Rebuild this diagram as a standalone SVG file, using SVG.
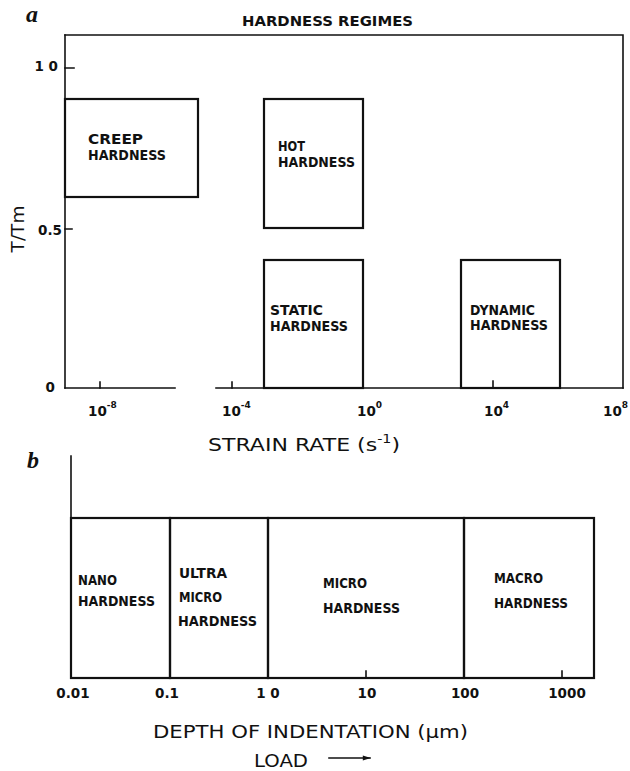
<svg xmlns="http://www.w3.org/2000/svg" width="630" height="771" viewBox="0 0 630 771">
<style>
.ln{stroke:#111;stroke-width:1.6;fill:none;stroke-linecap:square}
.bx{stroke:#111;stroke-width:2.2;fill:none}
.lb{font-family:"DejaVu Sans","Liberation Sans",sans-serif;font-weight:bold;font-size:14.5px;fill:#111}
.tk{font-family:"DejaVu Sans","Liberation Sans",sans-serif;font-weight:bold;font-size:13.5px;fill:#111}
.ax{font-family:"DejaVu Sans","Liberation Sans",sans-serif;font-size:18.5px;fill:#111}
.pl{font-family:"Liberation Serif",serif;font-weight:bold;font-style:italic;font-size:24px;fill:#111}
.sp{font-size:9px}
</style>
<defs>
<marker id="ah" viewBox="0 0 10 10" refX="9" refY="5" markerWidth="16" markerHeight="8" markerUnits="userSpaceOnUse" orient="auto">
<path d="M0,2 L10,5 L0,8 Z" fill="#111"/>
</marker>
</defs>

<!-- Panel a -->
<g id="panel-a-labels">
<text class="pl" x="26" y="22">a</text>
<text class="lb" x="242" y="26" textLength="171" lengthAdjust="spacingAndGlyphs">HARDNESS REGIMES</text>
<text class="ax" transform="translate(24,229) rotate(-90)" text-anchor="middle">T/Tm</text>
<text class="tk" x="58" y="71" text-anchor="end">1 0</text>
<text class="tk" x="62" y="235" text-anchor="end">0.5</text>
<text class="tk" x="55" y="392" text-anchor="end">0</text>
<text class="tk" x="88" y="416">10<tspan class="sp" dy="-8">-8</tspan></text>
<text class="tk" x="222" y="416">10<tspan class="sp" dy="-8">-4</tspan></text>
<text class="tk" x="357" y="416">10<tspan class="sp" dy="-8">0</tspan></text>
<text class="tk" x="484" y="416">10<tspan class="sp" dy="-8">4</tspan></text>
<text class="tk" x="603" y="416">10<tspan class="sp" dy="-8">8</tspan></text>
<text class="ax" x="208" y="451" textLength="192" lengthAdjust="spacingAndGlyphs">STRAIN RATE (s<tspan font-size="12" dy="-8">-1</tspan><tspan dy="8">)</tspan></text>
</g>

<g id="connectors">
<path class="ln" d="M65,35 H623 V388"/>
<path class="ln" d="M65,35 V388"/>
<path class="ln" d="M65,388 H175 M216,388 H623"/>
<path class="ln" d="M65,68 H74 M65,229 H72 M100,388 V382 M232,388 V382 M493,388 V381"/>
<path class="ln" d="M71,456 V678 H594"/>
<path class="ln" d="M366,678 V671 M562,678 V671"/>
<path class="ln" d="M329,758 H370" stroke-width="2.4" marker-end="url(#ah)"/>
</g>

<g id="creep">
<rect class="bx" x="65" y="99" width="133" height="98"/>
<text class="lb" x="88" y="144" textLength="55" lengthAdjust="spacingAndGlyphs">CREEP</text>
<text class="lb" x="88" y="160" textLength="78" lengthAdjust="spacingAndGlyphs">HARDNESS</text>
</g>
<g id="hot">
<rect class="bx" x="264" y="99" width="99" height="129"/>
<text class="lb" x="278" y="151" textLength="27" lengthAdjust="spacingAndGlyphs">HOT</text>
<text class="lb" x="278" y="167" textLength="77" lengthAdjust="spacingAndGlyphs">HARDNESS</text>
</g>
<g id="static">
<rect class="bx" x="264" y="260" width="99" height="128"/>
<text class="lb" x="270" y="315" textLength="53" lengthAdjust="spacingAndGlyphs">STATIC</text>
<text class="lb" x="270" y="331" textLength="78" lengthAdjust="spacingAndGlyphs">HARDNESS</text>
</g>
<g id="dynamic">
<rect class="bx" x="461" y="260" width="99" height="128"/>
<text class="lb" x="470" y="315" textLength="65" lengthAdjust="spacingAndGlyphs">DYNAMIC</text>
<text class="lb" x="470" y="330" textLength="78" lengthAdjust="spacingAndGlyphs">HARDNESS</text>
</g>

<!-- Panel b -->
<g id="panel-b-labels">
<text class="pl" x="27" y="468">b</text>
<text class="tk" x="73" y="698" text-anchor="middle">0.01</text>
<text class="tk" x="167" y="698" text-anchor="middle">0.1</text>
<text class="tk" x="268" y="698" text-anchor="middle">1 0</text>
<text class="tk" x="367" y="698" text-anchor="middle">10</text>
<text class="tk" x="465" y="698" text-anchor="middle">100</text>
<text class="tk" x="567" y="698" text-anchor="middle">1000</text>
<text class="ax" x="153" y="738" textLength="315" lengthAdjust="spacingAndGlyphs">DEPTH OF INDENTATION (µm)</text>
<text class="ax" x="254" y="767" textLength="54" lengthAdjust="spacingAndGlyphs">LOAD</text>
</g>
<g id="nano">
<rect class="bx" x="71" y="518" width="99" height="160"/>
<text class="lb" x="78" y="585" textLength="39" lengthAdjust="spacingAndGlyphs">NANO</text>
<text class="lb" x="78" y="606" textLength="77" lengthAdjust="spacingAndGlyphs">HARDNESS</text>
</g>
<g id="ultramicro">
<rect class="bx" x="170" y="518" width="98" height="160"/>
<text class="lb" x="179" y="578" textLength="48" lengthAdjust="spacingAndGlyphs">ULTRA</text>
<text class="lb" x="179" y="602" textLength="43" lengthAdjust="spacingAndGlyphs">MICRO</text>
<text class="lb" x="178" y="626" textLength="79" lengthAdjust="spacingAndGlyphs">HARDNESS</text>
</g>
<g id="micro">
<rect class="bx" x="268" y="518" width="196" height="160"/>
<text class="lb" x="323" y="588" textLength="44" lengthAdjust="spacingAndGlyphs">MICRO</text>
<text class="lb" x="323" y="613" textLength="77" lengthAdjust="spacingAndGlyphs">HARDNESS</text>
</g>
<g id="macro">
<rect class="bx" x="464" y="518" width="130" height="160"/>
<text class="lb" x="494" y="583" textLength="49" lengthAdjust="spacingAndGlyphs">MACRO</text>
<text class="lb" x="494" y="608" textLength="74" lengthAdjust="spacingAndGlyphs">HARDNESS</text>
</g>
</svg>
